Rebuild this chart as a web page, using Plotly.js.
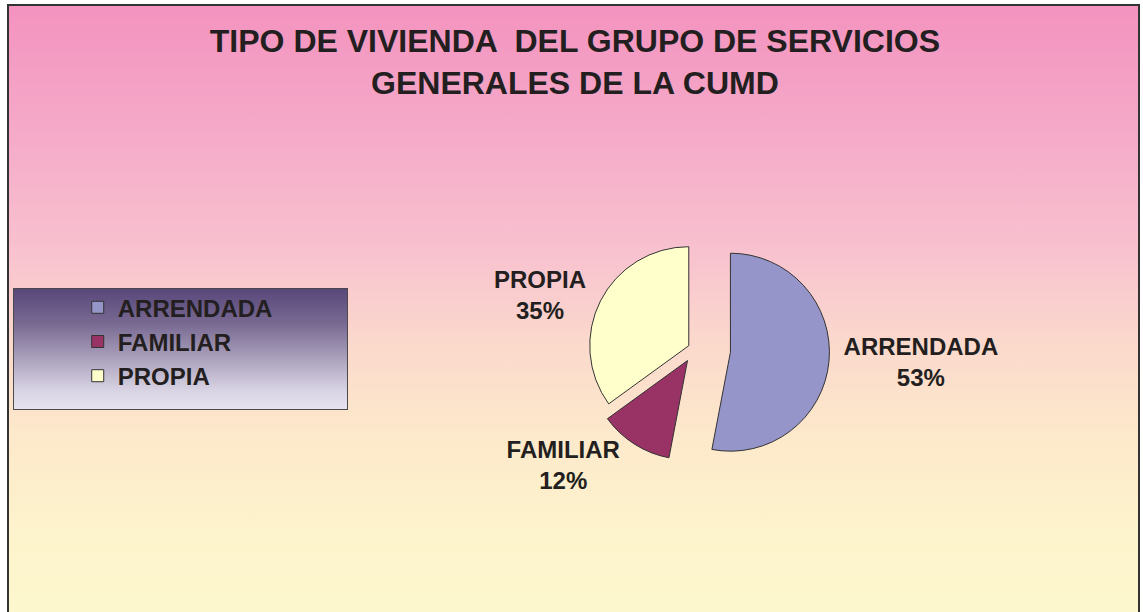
<!DOCTYPE html>
<html>
<head>
<meta charset="utf-8">
<script src="https://cdn.plot.ly/plotly-3.0.1.min.js"></script>
<style>
  html, body { margin:0; padding:0; background:#ffffff; }
  #wrap { position:relative; width:1143px; height:612px; overflow:hidden; }
  #frame { position:absolute; left:7px; top:4px; width:1133px; height:620px;
    border:2px solid #333; box-sizing:border-box;
    background:linear-gradient(to bottom, #f393bf 0%, #f5a9c8 20%, #f8c2cf 40%, #fbd9cc 55%, #fde9cb 70%, #fdf3cc 85%, #fdf8ce 100%); }
  #legbox { position:absolute; left:13px; top:288px; width:335px; height:122px;
    border:1px solid #4a4a4a; box-sizing:border-box;
    background:linear-gradient(to bottom, #58477a 0%, #7a6b93 30%, #aea5bf 60%, #d9d4e4 85%, #e6e2ee 100%); }
  #chart { position:absolute; left:0; top:0; width:1143px; height:612px; }
</style>
</head>
<body>
<div id="wrap">
  <div id="frame"></div>
  <div id="legbox"></div>
  <div id="chart"></div>
</div>
<script>
const categories = ["ARRENDADA", "FAMILIAR", "PROPIA"];
const values = [53, 12, 35];
const sliceColors = ["#9595c9", "#993366", "#ffffcc"];

const trace = {
  type: "pie",
  labels: categories,
  values: values,
  sort: false,
  direction: "clockwise",
  rotation: 0,
  pull: [0.36, 0.14, 0.07],
  marker: { colors: sliceColors, line: { color: "#333333", width: 1 } },
  textposition: "outside",
  texttemplate: "%{label}<br>%{percent:.0%}",
  textfont: { family: "Liberation Sans, Arial, sans-serif", size: 24, color: "#231f20", weight: "bold" },
  domain: { x: [0.485, 0.731], y: [0.21, 0.65] },
  hoverinfo: "label+percent"
};

const layout = {
  width: 1143,
  height: 612,
  margin: { l: 0, r: 0, t: 0, b: 0 },
  paper_bgcolor: "rgba(0,0,0,0)",
  plot_bgcolor: "rgba(0,0,0,0)",
  title: {
    text: "TIPO DE VIVIENDA  DEL GRUPO DE SERVICIOS<br>GENERALES DE LA CUMD",
    font: { family: "Liberation Sans, Arial, sans-serif", size: 32, color: "#231f20", weight: "bold" },
    x: 0.503, xanchor: "center",
    y: 0.915, yanchor: "middle"
  },
  showlegend: true,
  legend: {
    x: 0.068, xanchor: "left",
    y: 0.534, yanchor: "top",
    bgcolor: "rgba(0,0,0,0)",
    font: { family: "Liberation Sans, Arial, sans-serif", size: 24, color: "#231f20", weight: "bold" }
  }
};

Plotly.newPlot("chart", [trace], layout, { displayModeBar: false, staticPlot: true });
</script>
</body>
</html>
